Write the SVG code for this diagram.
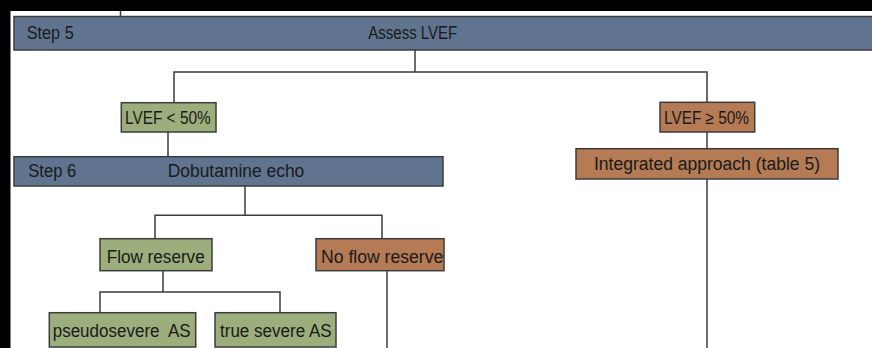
<svg xmlns="http://www.w3.org/2000/svg" width="872" height="348" viewBox="0 0 872 348">
<style>
.box{stroke:#3c3c3c;stroke-width:1.5}
.blue{fill:#607490}
.green{fill:#9bae7b}
.brown{fill:#b47b55}
.t{font-family:"Liberation Sans",Arial,sans-serif;font-size:18px;fill:#1a1a1a}
.c{fill:none;stroke:#3c3c3c;stroke-width:1.5}
</style>
<rect x="0" y="0" width="872" height="348" fill="#000"/>
<rect x="10.5" y="11" width="862" height="337" fill="#fff"/>
<g id="connectors">
<path class="c" d="M120.5 11V16.5"/>
<path class="c" d="M415 50V72M174 102.7V72H707V102.3"/>
<path class="c" d="M168 132V156.7"/>
<path class="c" d="M707 132V148.7"/>
<path class="c" d="M245 186V215.3M155 238.7V215.3H382V238.7"/>
<path class="c" d="M163 270.7V292M100 312.7V292H280V312.7"/>
<path class="c" d="M387 270.7V348"/>
<path class="c" d="M707 179V348"/>
</g>
<g id="step5">
<rect class="box blue" x="14" y="16.5" width="870" height="33.5"/>
<text class="t" x="26.7" y="38.5" textLength="47" lengthAdjust="spacingAndGlyphs">Step 5</text>
<text class="t" x="368.3" y="38.5" textLength="89" lengthAdjust="spacingAndGlyphs">Assess LVEF</text>
</g>
<g id="lvef-lt50">
<rect class="box green" x="121.3" y="102.7" width="94.7" height="29.3"/>
<text class="t" x="125" y="124" textLength="85.7" lengthAdjust="spacingAndGlyphs">LVEF &lt; 50%</text>
</g>
<g id="lvef-ge50">
<rect class="box brown" x="660" y="102.3" width="94.7" height="29.7"/>
<text class="t" x="664" y="124" textLength="85" lengthAdjust="spacingAndGlyphs">LVEF ≥ 50%</text>
</g>
<g id="integrated">
<rect class="box brown" x="576" y="148.7" width="262" height="30.3"/>
<text class="t" x="594" y="170.3" textLength="226" lengthAdjust="spacingAndGlyphs">Integrated approach (table 5)</text>
</g>
<g id="step6">
<rect class="box blue" x="14" y="156.7" width="429" height="29.3"/>
<text class="t" x="28.3" y="177" textLength="48" lengthAdjust="spacingAndGlyphs">Step 6</text>
<text class="t" x="167.7" y="177" textLength="136.6" lengthAdjust="spacingAndGlyphs">Dobutamine echo</text>
</g>
<g id="flow-reserve">
<rect class="box green" x="100" y="238.7" width="112" height="32"/>
<text class="t" x="106.7" y="263.3" textLength="98" lengthAdjust="spacingAndGlyphs">Flow reserve</text>
</g>
<g id="no-flow-reserve">
<rect class="box brown" x="316" y="238.7" width="128" height="32"/>
<text class="t" x="321" y="263.3" textLength="122.3" lengthAdjust="spacingAndGlyphs">No flow reserve</text>
</g>
<g id="pseudosevere">
<rect class="box green" x="49.3" y="312.7" width="146.4" height="34.3"/>
<text class="t" x="52.7" y="337.3" textLength="138" lengthAdjust="spacingAndGlyphs" xml:space="preserve">pseudosevere  AS</text>
</g>
<g id="true-severe">
<rect class="box green" x="215" y="312.7" width="121" height="34.3"/>
<text class="t" x="220" y="337.3" textLength="111.7" lengthAdjust="spacingAndGlyphs">true severe AS</text>
</g>
</svg>
